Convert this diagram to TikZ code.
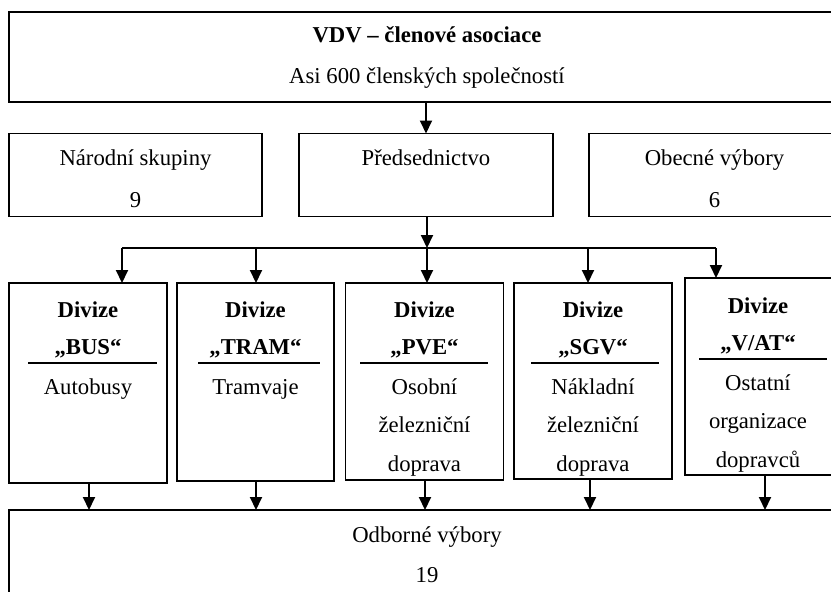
\documentclass[tikz,border=0pt]{standalone}
\usepackage{fontspec}
\setmainfont{Liberation Serif}
\usetikzlibrary{arrows.meta}
\tikzset{
  box/.style={draw, line width=1.3pt, rectangle, inner sep=0pt, outer sep=0pt},
  txt/.style={anchor=base, inner sep=0pt, font=\fontsize{22.7}{27}\selectfont},
  txtb/.style={anchor=base, inner sep=0pt, font=\fontsize{22.7}{27}\selectfont\bfseries},
  arr/.style={draw, line width=2pt, -{Triangle[length=13pt,width=12pt]}},
  rulestyle/.style={line width=1.3pt}
}
\begin{document}
\begin{tikzpicture}[x=1pt,y=-1pt]
\useasboundingbox (0,0) rectangle (831,592);
\clip (0,0) rectangle (831,592);
% boxes
\node[box, minimum width=831, minimum height=90] (top) at (424.5,57) {};
\node[box, minimum width=253, minimum height=83] (nar) at (135.5,175) {};
\node[box, minimum width=254, minimum height=83] (pred) at (426,175) {};
\node[box, minimum width=251, minimum height=83] (obec) at (714.5,175) {};
\node[box, minimum width=158, minimum height=200] (bus) at (88,383) {};
\node[box, minimum width=157, minimum height=198] (tram) at (255.5,382) {};
\node[box, minimum width=158, minimum height=197] (pve) at (424.5,381.5) {};
\node[box, minimum width=158, minimum height=196] (sgv) at (593,381) {};
\node[box, minimum width=155, minimum height=197] (vat) at (762.5,376.5) {};
\node[box, minimum width=831, minimum height=90] (bot) at (424.5,555) {};
% texts
\node[txtb] (t1) at (427,42.5) {VDV – členové asociace};
\node[txt] (t2) at (427,83) {Asi 600 členských společností};
\node[txt] (n1) at (135.5,165.5) {Národní skupiny};
\node[txt] (n2) at (135.5,207.5) {9};
\node[txt] (p1) at (426,165.5) {Předsednictvo};
\node[txt] (o1) at (714.5,165.5) {Obecné výbory};
\node[txt] (o2) at (714.5,207.5) {6};
% divisions
\node[txtb] (b1) at (88,317) {Divize};
\node[txtb] (b2) at (88,354) {„BUS“};
\node[txt] (b3) at (88,394) {Autobusy};
\node[txtb] (r1) at (255.5,317) {Divize};
\node[txtb] (r2) at (255.5,354) {„TRAM“};
\node[txt] (r3) at (255.5,394) {Tramvaje};
\node[txtb] (v1) at (424.5,317) {Divize};
\node[txtb] (v2) at (424.5,354) {„PVE“};
\node[txt] (v3) at (424.5,394) {Osobní};
\node[txt] (v4) at (424.5,432) {železniční};
\node[txt] (v5) at (424.5,471) {doprava};
\node[txtb] (s1) at (593,317) {Divize};
\node[txtb] (s2) at (593,354) {„SGV“};
\node[txt] (s3) at (593,394) {Nákladní};
\node[txt] (s4) at (593,432) {železniční};
\node[txt] (s5) at (593,471) {doprava};
\node[txtb] (a1) at (758,313) {Divize};
\node[txtb] (a2) at (758,350) {„V/AT“};
\node[txt] (a3) at (758,390) {Ostatní};
\node[txt] (a4) at (758,428) {organizace};
\node[txt] (a5) at (758,467) {dopravců};
\node[txt] (m1) at (427,542.5) {Odborné výbory};
\node[txt] (m2) at (427,582.5) {19};
% rules under division names
\draw[rulestyle] (28,363) -- (157,363);
\draw[rulestyle] (198,363) -- (320,363);
\draw[rulestyle] (360,363) -- (488,363);
\draw[rulestyle] (531,363) -- (659,363);
\draw[rulestyle] (699,359) -- (827,359);
% connectors
\draw[arr] (top.south -| pred.north) -- (pred.north);
\coordinate (split) at (427,248);
\coordinate (d1) at (122,248);
\coordinate (d2) at (256,248);
\coordinate (d4) at (588,248);
\coordinate (d5) at (716,248);
\draw[arr] (pred.south -| split) -- (split);
\draw[line width=2pt] (d1) -- (d5);
\draw[arr] (d1) -- (d1 |- bus.north);
\draw[arr] (d2) -- (d2 |- tram.north);
\draw[arr] (split) -- (split |- pve.north);
\draw[arr] (d4) -- (d4 |- sgv.north);
\draw[arr] (d5) -- (d5 |- vat.north);
\coordinate (u1) at (89,510);
\coordinate (u2) at (256,510);
\coordinate (u3) at (425,510);
\coordinate (u4) at (590,510);
\coordinate (u5) at (765,510);
\draw[arr] (u1 |- bus.south) -- (u1);
\draw[arr] (u2 |- tram.south) -- (u2);
\draw[arr] (u3 |- pve.south) -- (u3);
\draw[arr] (u4 |- sgv.south) -- (u4);
\draw[arr] (u5 |- vat.south) -- (u5);
\end{tikzpicture}
\end{document}
